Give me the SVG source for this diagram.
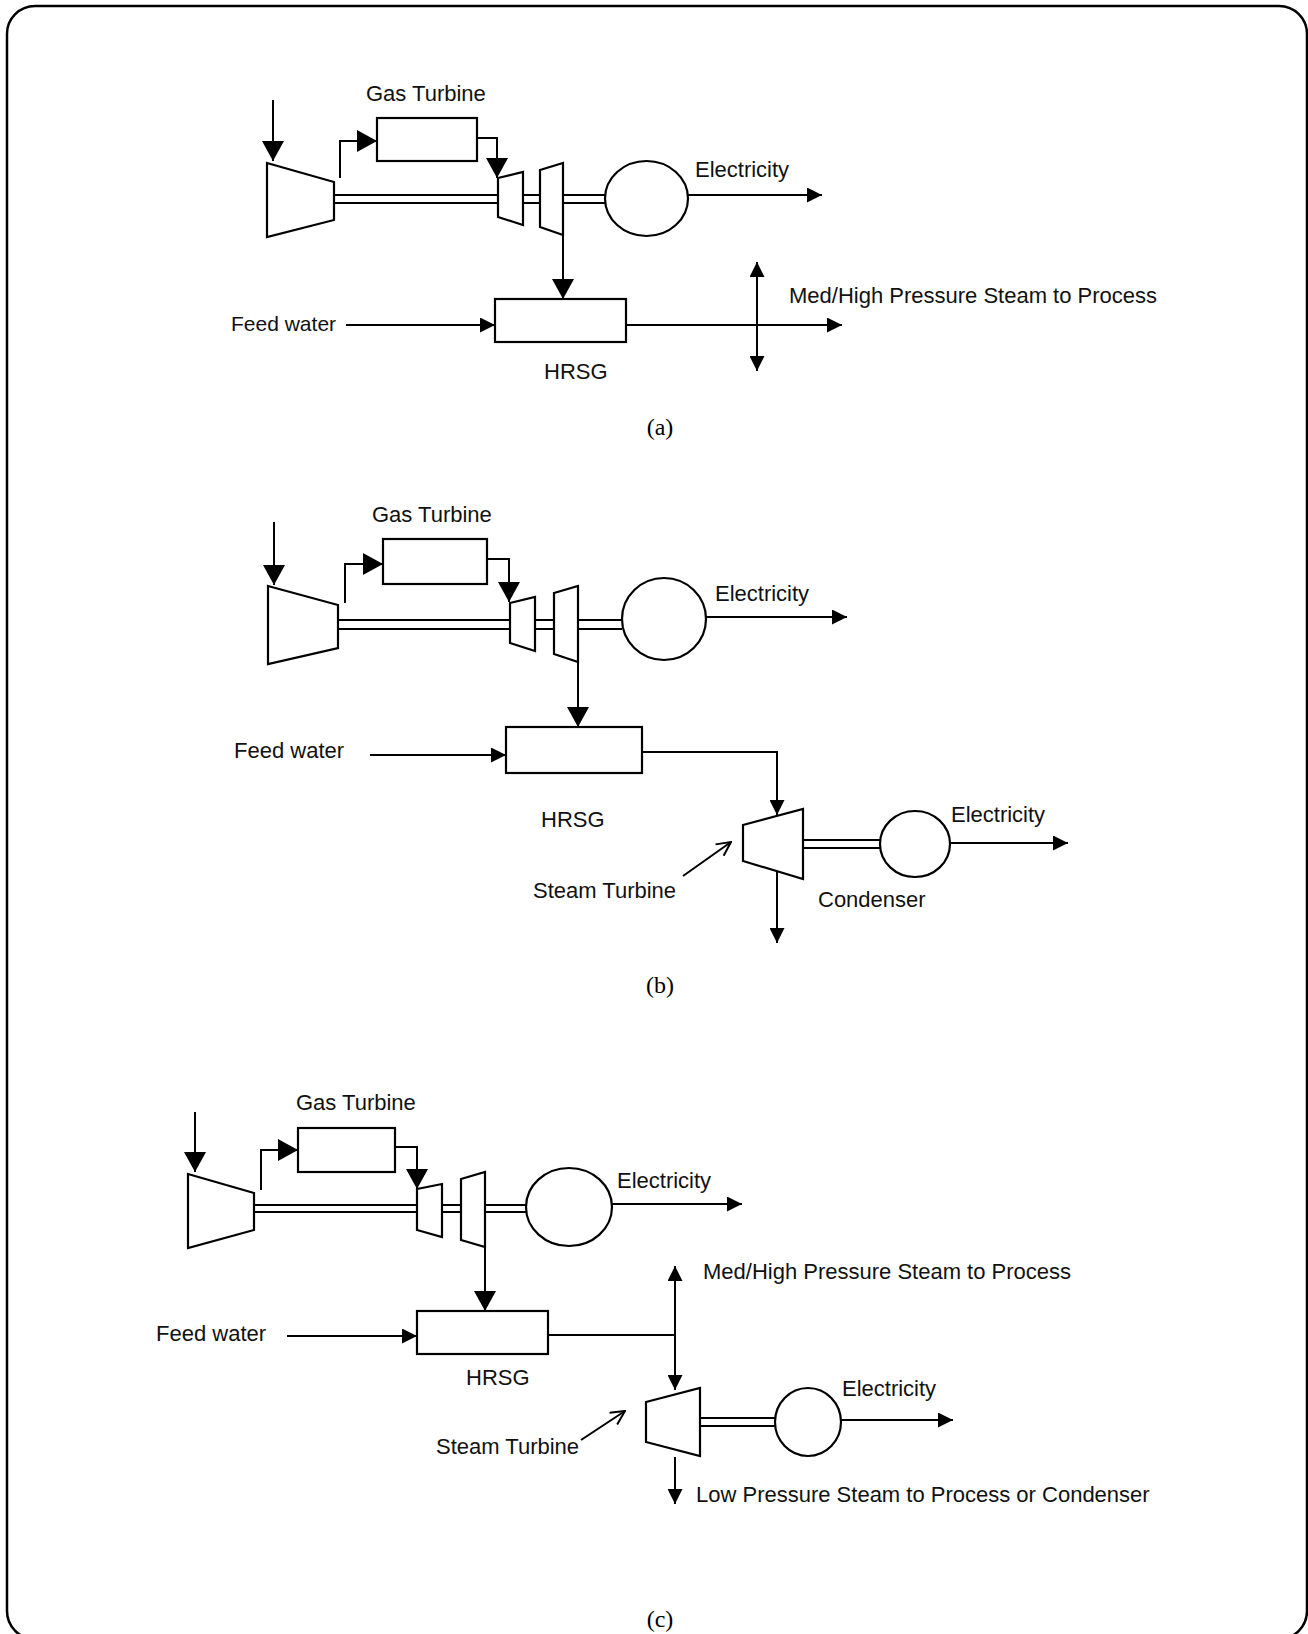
<svg xmlns="http://www.w3.org/2000/svg" width="1308" height="1634" viewBox="0 0 1308 1634">
<style>
.t{font-family:"Liberation Sans",Arial,sans-serif;font-size:22px;fill:#111}
.cap{font-family:"Liberation Serif","Times New Roman",serif;font-size:24px;fill:#000;text-anchor:middle}
.sh{fill:#fff;stroke:#000;stroke-width:2.2}
.ln{fill:none;stroke:#000;stroke-width:2}
.big{fill:none;stroke:#000;stroke-width:2;marker-end:url(#mb)}
.sm{fill:none;stroke:#000;stroke-width:2;marker-end:url(#ms)}
.dbl{fill:none;stroke:#000;stroke-width:2;marker-start:url(#ms);marker-end:url(#ms)}
.opn{fill:none;stroke:#000;stroke-width:2;marker-end:url(#mo)}
</style>
<defs>
<marker id="mb" markerUnits="userSpaceOnUse" viewBox="0 0 20 22" markerWidth="20" markerHeight="22" refX="20" refY="11" orient="auto"><path d="M0,0 L20,11 L0,22 z" fill="#000"/></marker>
<marker id="ms" markerUnits="userSpaceOnUse" viewBox="0 0 15 15" markerWidth="15" markerHeight="15" refX="15" refY="7.5" orient="auto-start-reverse"><path d="M0,0 L15,7.5 L0,15 z" fill="#000"/></marker>
<marker id="mo" markerUnits="userSpaceOnUse" viewBox="0 0 16 16" markerWidth="16" markerHeight="16" refX="15" refY="8" orient="auto"><path d="M1,1 L15,8 L1,15" fill="none" stroke="#000" stroke-width="2"/></marker>
</defs>
<rect x="7" y="6" width="1300" height="1633" rx="28" fill="#fff" stroke="#000" stroke-width="2.5"/>

<!-- Panel (a) -->
<g id="a-compressor"><polygon class="sh" points="267,163 334,182 334,220 267,237"/></g>
<g id="a-combustor"><rect class="sh" x="377" y="118" width="100" height="43"/><text class="t" x="366" y="101">Gas Turbine</text></g>
<g id="a-turbine1"><polygon class="sh" points="498,178 523,172 523,225 498,217"/></g>
<g id="a-turbine2"><polygon class="sh" points="540,170 563,163 563,235 540,227"/></g>
<g id="a-generator"><ellipse class="sh" cx="646.5" cy="198.5" rx="41.5" ry="37.5"/><text class="t" x="695" y="177">Electricity</text></g>
<g id="a-hrsg"><rect class="sh" x="495" y="299" width="131" height="43"/><text class="t" x="544" y="379">HRSG</text></g>
<g id="a-labels"><text class="t" x="231" y="331" style="font-size:21px">Feed water</text><text class="t" x="789" y="303">Med/High Pressure Steam to Process</text><text class="cap" x="660" y="435">(a)</text></g>

<!-- Panel (b) -->
<g id="b-compressor"><polygon class="sh" points="268,586 338,605 338,648 268,664"/></g>
<g id="b-combustor"><rect class="sh" x="383" y="539" width="104" height="45"/><text class="t" x="372" y="522">Gas Turbine</text></g>
<g id="b-turbine1"><polygon class="sh" points="510,603 535,597 535,651 510,643"/></g>
<g id="b-turbine2"><polygon class="sh" points="554,593 578,586 578,662 554,654"/></g>
<g id="b-generator"><ellipse class="sh" cx="664" cy="619" rx="42" ry="41"/><text class="t" x="715" y="601">Electricity</text></g>
<g id="b-hrsg"><rect class="sh" x="506" y="727" width="136" height="46"/><text class="t" x="541" y="827">HRSG</text></g>
<g id="b-steamturbine"><polygon class="sh" points="743,825 803,809 803,879 743,861"/><text class="t" x="533" y="898">Steam Turbine</text></g>
<g id="b-generator2"><ellipse class="sh" cx="915" cy="844" rx="35" ry="33"/><text class="t" x="951" y="822">Electricity</text></g>
<g id="b-labels"><text class="t" x="234" y="758">Feed water</text><text class="t" x="818" y="907">Condenser</text><text class="cap" x="660" y="993">(b)</text></g>

<!-- Panel (c) -->
<g id="c-compressor"><polygon class="sh" points="188,1174 254,1193 254,1230 188,1248"/></g>
<g id="c-combustor"><rect class="sh" x="298" y="1128" width="97" height="44"/><text class="t" x="296" y="1110">Gas Turbine</text></g>
<g id="c-turbine1"><polygon class="sh" points="417,1189 442,1184 442,1237 417,1230"/></g>
<g id="c-turbine2"><polygon class="sh" points="461,1179 485,1172 485,1247 461,1240"/></g>
<g id="c-generator"><ellipse class="sh" cx="569" cy="1207" rx="43" ry="39"/><text class="t" x="617" y="1188">Electricity</text></g>
<g id="c-hrsg"><rect class="sh" x="417" y="1311" width="131" height="43"/><text class="t" x="466" y="1385">HRSG</text></g>
<g id="c-steamturbine"><polygon class="sh" points="646,1402 700,1388 700,1456 646,1442"/><text class="t" x="436" y="1454">Steam Turbine</text></g>
<g id="c-generator2"><ellipse class="sh" cx="808" cy="1422" rx="33" ry="34"/><text class="t" x="842" y="1396">Electricity</text></g>
<g id="c-labels"><text class="t" x="156" y="1341">Feed water</text><text class="t" x="703" y="1279">Med/High Pressure Steam to Process</text><text class="t" x="696" y="1502">Low Pressure Steam to Process or Condenser</text><text class="cap" x="660" y="1627">(c)</text></g>

<g id="connectors">
<!-- (a) -->
<path class="big" d="M273,100 V161"/>
<path class="big" d="M340,178 V141 H377"/>
<path class="big" d="M477,138 H497 V178"/>
<path class="ln" d="M334,195 H498 M334,203 H498 M523,195 H540 M523,203 H540 M563,195 H605 M563,203 H605"/>
<path class="sm" d="M688,195 H822"/>
<path class="big" d="M563,235 V299"/>
<path class="sm" d="M346,325 H495"/>
<path class="sm" d="M626,325 H842"/>
<path class="dbl" d="M757,262 V371"/>
<!-- (b) -->
<path class="big" d="M274,522 V585"/>
<path class="big" d="M345,603 V564 H383"/>
<path class="big" d="M487,559 H509 V602"/>
<path class="ln" d="M338,620 H510 M338,629 H510 M535,620 H554 M535,629 H554 M578,620 H622 M578,629 H622"/>
<path class="sm" d="M706,617 H847"/>
<path class="big" d="M578,662 V727"/>
<path class="sm" d="M370,755 H506"/>
<path class="sm" d="M642,752 H777 V815"/>
<path class="ln" d="M803,840 H880 M803,848 H880"/>
<path class="sm" d="M950,843 H1068"/>
<path class="opn" d="M683,876 L731,842"/>
<path class="sm" d="M777,871 V943"/>
<!-- (c) -->
<path class="big" d="M195,1112 V1172"/>
<path class="big" d="M261,1190 V1150 H298"/>
<path class="big" d="M395,1147 H417 V1189"/>
<path class="ln" d="M254,1205 H417 M254,1212 H417 M442,1205 H461 M442,1212 H461 M485,1205 H526 M485,1212 H526"/>
<path class="sm" d="M612,1204 H742"/>
<path class="big" d="M485,1247 V1311"/>
<path class="sm" d="M287,1336 H417"/>
<path class="ln" d="M548,1335 H675"/>
<path class="dbl" d="M675,1266 V1390"/>
<path class="ln" d="M700,1418 H775 M700,1426 H775"/>
<path class="sm" d="M841,1420 H953"/>
<path class="opn" d="M581,1440 L625,1411"/>
<path class="sm" d="M675,1457 V1504"/>
</g>
</svg>
